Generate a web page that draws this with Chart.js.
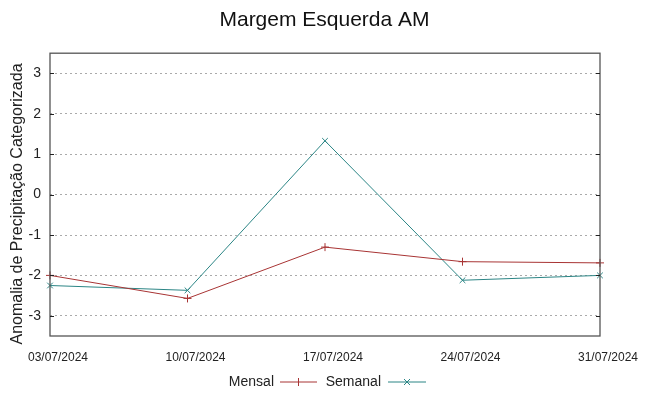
<!DOCTYPE html>
<html>
<head>
<meta charset="utf-8">
<script src="https://cdn.jsdelivr.net/npm/chart.js@4.4.1/dist/chart.umd.min.js"></script>
<style>
  html, body { margin: 0; padding: 0; background: #fff; }
  #box { width: 649px; height: 396px; }
</style>
</head>
<body>
<div id="box"><canvas id="graficoMargem"></canvas></div>
<script>
// datas das semanas
const datas = ["03/07/2024", "10/07/2024", "17/07/2024", "24/07/2024", "31/07/2024"];
// anomalias
const mensal = [-2.0, -2.57, -1.30, -1.66, -1.69];
const semanal = [-2.25, -2.37, 1.33, -2.12, -2.0];
const ticksY = [-3, -2, -1, 0, 1, 2, 3];

const corMensal = "#a83434";
const corSemanal = "#2b8585";
const fonte = "'Liberation Sans', Arial, sans-serif";

// moldura do grafico, titulo do eixo y e legenda embaixo (estilo gnuplot)
const molduraLegenda = {
  id: "molduraLegenda",
  afterDatasetsDraw(chart) {
    const ctx = chart.ctx, a = chart.chartArea;
    const ey = chart.scales.y;
    ctx.save();
    ctx.strokeStyle = "#555";
    ctx.lineWidth = 1.3;
    ctx.strokeRect(a.left, a.top, a.right - a.left, a.bottom - a.top);

    // tracinhos internos dos ticks
    ctx.strokeStyle = "#222";
    ctx.lineWidth = 1;
    ctx.beginPath();
    ticksY.forEach(v => {
      const py = Math.round(ey.getPixelForValue(v)) + 0.5;
      ctx.moveTo(a.left, py); ctx.lineTo(a.left + 4, py);
      ctx.moveTo(a.right, py); ctx.lineTo(a.right - 4, py);
    });
    ctx.stroke();

    // titulo do eixo y
    ctx.save();
    ctx.translate(18, 204);
    ctx.rotate(-Math.PI / 2);
    ctx.font = "16px " + fonte;
    ctx.fillStyle = "#222";
    ctx.textAlign = "center";
    ctx.textBaseline = "middle";
    ctx.fillText("Anomalia de Precipitação Categorizada", 0, 0);
    ctx.restore();

    const y = 382;
    ctx.font = "14px " + fonte;
    ctx.fillStyle = "#222";
    ctx.textBaseline = "middle";
    ctx.textAlign = "right";
    ctx.fillText("Mensal", 274, y);
    ctx.fillText("Semanal", 381, y);

    // Mensal
    ctx.strokeStyle = corMensal;
    ctx.beginPath();
    ctx.moveTo(280, y); ctx.lineTo(317, y);
    ctx.moveTo(298.5, y - 4); ctx.lineTo(298.5, y + 4);
    ctx.stroke();
    // Semanal
    ctx.strokeStyle = corSemanal;
    ctx.beginPath();
    ctx.moveTo(388, y); ctx.lineTo(426, y);
    ctx.moveTo(404, y - 3); ctx.lineTo(410, y + 3);
    ctx.moveTo(404, y + 3); ctx.lineTo(410, y - 3);
    ctx.stroke();
    ctx.restore();
  }
};

let miCanvas = document.getElementById("graficoMargem").getContext("2d");

var chart = new Chart(miCanvas, {
  type: "line",
  data: {
    labels: datas,
    datasets: [
      {
        label: "Mensal",
        data: mensal,
        borderColor: corMensal,
        backgroundColor: corMensal,
        borderWidth: 1,
        pointStyle: "cross",
        pointRadius: 4,
        pointBorderWidth: 1,
        tension: 0
      },
      {
        label: "Semanal",
        data: semanal,
        borderColor: corSemanal,
        backgroundColor: corSemanal,
        borderWidth: 1,
        pointStyle: "crossRot",
        pointRadius: 4,
        pointBorderWidth: 1,
        tension: 0
      }
    ]
  },
  options: {
    responsive: true,
    maintainAspectRatio: false,
    animation: false,
    layout: { padding: 0 },
    plugins: {
      legend: { display: false },
      tooltip: { enabled: false },
      title: {
        display: true,
        text: "Margem Esquerda AM",
        color: "#111",
        font: { family: fonte, size: 21, weight: "normal" },
        padding: { top: 8, bottom: 20 }
      }
    },
    scales: {
      x: {
        type: "category",
        offset: false,
        grid: { display: false, drawTicks: false },
        border: { display: false },
        ticks: {
          color: "#222",
          font: { family: fonte, size: 12 },
          padding: 14,
          labelOffset: 8,
          maxRotation: 0,
          autoSkip: false
        },
        afterFit(scale) { scale.height = 60; }
      },
      y: {
        min: -3.5,
        max: 3.5,
        afterBuildTicks(scale) { scale.ticks = ticksY.map(v => ({ value: v })); },
        grid: {
          color: "#aaa",
          lineWidth: 1,
          drawTicks: false
        },
        border: { display: false, dash: [2, 3] },
        ticks: {
          color: "#222",
          font: { family: fonte, size: 14 },
          padding: 9
        },
        afterFit(scale) { scale.width = 50; }
      },
      margemDireita: {
        type: "linear",
        position: "right",
        display: true,
        grid: { display: false, drawTicks: false },
        border: { display: false },
        ticks: { display: false },
        afterFit(scale) { scale.width = 49; }
      }
    }
  },
  plugins: [molduraLegenda]
});
</script>
</body>
</html>
